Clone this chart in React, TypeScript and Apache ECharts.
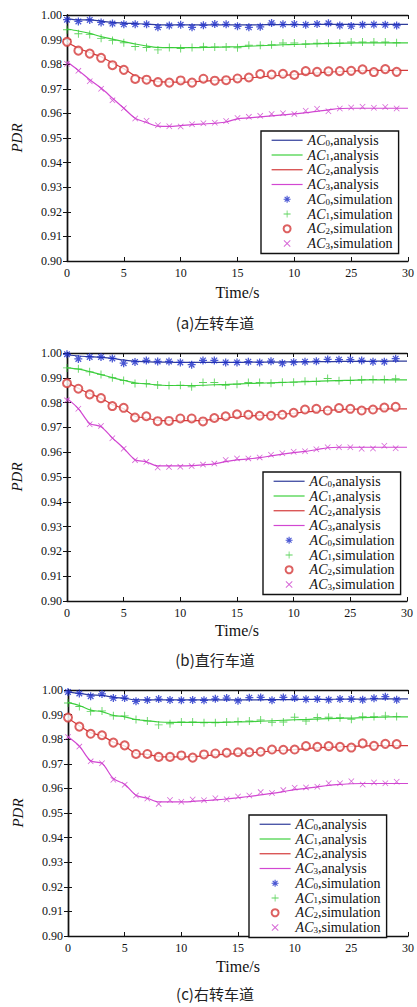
import React, { useEffect, useRef } from "react";
import * as echarts from "echarts";

// ---------- data ----------
const X_TICK_LABELS = ["0", "5", "10", "15", "10", "25", "30"];
const SIM_T = [0, 1, 2, 3, 4, 5, 6, 7, 8, 9, 10, 11, 12, 13, 14, 15, 16, 17, 18, 19, 20, 21, 22, 23, 24, 25, 26, 27, 28, 29];
const ANA_T = [0, 1, 2, 3, 4, 5, 6, 7, 8, 9, 10, 11, 12, 13, 14, 15, 16, 17, 18, 19, 20, 21, 22, 23, 24, 25, 26, 27, 28, 29, 30];
const CAPTIONS = ["(a)左转车道", "(b)直行车道", "(c)右转车道"];

// panel (a) analysis
const anaA0 = [0.9985, 0.998, 0.998, 0.9975, 0.997, 0.9967, 0.9965, 0.9963, 0.996, 0.996, 0.996, 0.996, 0.996, 0.996, 0.996, 0.996, 0.996, 0.996, 0.9961, 0.9961, 0.9961, 0.9961, 0.9962, 0.9962, 0.9962, 0.9962, 0.9962, 0.9962, 0.9962, 0.9962, 0.9962];
const anaA1 = [0.9943, 0.9935, 0.9925, 0.9912, 0.9902, 0.9892, 0.9882, 0.9874, 0.9868, 0.9867, 0.9867, 0.9867, 0.9868, 0.9869, 0.987, 0.9871, 0.9873, 0.9875, 0.9877, 0.9879, 0.988, 0.9882, 0.9883, 0.9884, 0.9885, 0.9886, 0.9887, 0.9887, 0.9887, 0.9887, 0.9887];
const anaA2 = [0.9889, 0.9865, 0.9847, 0.983, 0.9805, 0.9782, 0.9752, 0.9738, 0.9729, 0.9727, 0.9727, 0.9728, 0.9731, 0.9734, 0.9737, 0.974, 0.9744, 0.9748, 0.9752, 0.9755, 0.9758, 0.9762, 0.9765, 0.9768, 0.977, 0.9772, 0.9774, 0.9775, 0.9775, 0.9775, 0.9775];
const anaA3 = [0.981, 0.9775, 0.9737, 0.9703, 0.9662, 0.9621, 0.958, 0.9563, 0.9548, 0.9547, 0.955, 0.9554, 0.9557, 0.956, 0.9565, 0.9578, 0.9582, 0.9586, 0.959, 0.9594, 0.9598, 0.9603, 0.9608, 0.9614, 0.962, 0.9621, 0.9621, 0.9621, 0.9621, 0.9621, 0.9621];
// panel (a) simulation
const simA0 = [0.9981, 0.9974, 0.998, 0.997, 0.9965, 0.9962, 0.9962, 0.9962, 0.995, 0.9957, 0.996, 0.995, 0.9958, 0.9963, 0.9962, 0.9954, 0.995, 0.9952, 0.9967, 0.9962, 0.9963, 0.996, 0.9963, 0.9966, 0.9957, 0.9955, 0.996, 0.9961, 0.996, 0.9957];
const simA1 = [0.994, 0.9924, 0.9921, 0.9905, 0.9896, 0.9887, 0.9872, 0.9868, 0.9858, 0.9868, 0.9864, 0.9868, 0.9871, 0.987, 0.987, 0.9867, 0.9877, 0.9877, 0.9879, 0.9886, 0.9886, 0.9882, 0.9885, 0.9886, 0.9886, 0.989, 0.989, 0.989, 0.989, 0.9887];
const simA2 = [0.9891, 0.9855, 0.9843, 0.9826, 0.9796, 0.9777, 0.974, 0.9737, 0.9727, 0.9725, 0.9734, 0.9725, 0.9741, 0.9733, 0.9735, 0.9742, 0.9746, 0.976, 0.9758, 0.9761, 0.9756, 0.9772, 0.9769, 0.9771, 0.9772, 0.9773, 0.9779, 0.9768, 0.978, 0.9769];
const simA3 = [0.9802, 0.9773, 0.9731, 0.97, 0.9653, 0.9621, 0.9579, 0.957, 0.9552, 0.9548, 0.9547, 0.9556, 0.956, 0.9562, 0.9569, 0.9581, 0.9586, 0.959, 0.9598, 0.9601, 0.9598, 0.9611, 0.9619, 0.9609, 0.962, 0.9624, 0.9627, 0.9623, 0.9626, 0.962];

// panel (b) analysis
const anaB0 = [0.9993, 0.9988, 0.9985, 0.9982, 0.9978, 0.9972, 0.9967, 0.9965, 0.9963, 0.9963, 0.9962, 0.9962, 0.9962, 0.9962, 0.9962, 0.9962, 0.9963, 0.9963, 0.9963, 0.9964, 0.9964, 0.9964, 0.9965, 0.9965, 0.9966, 0.9966, 0.9966, 0.9967, 0.9967, 0.9967, 0.9967];
const anaB1 = [0.994, 0.9935, 0.9925, 0.9913, 0.9901, 0.989, 0.988, 0.9875, 0.9871, 0.9869, 0.9869, 0.9869, 0.987, 0.9872, 0.9873, 0.9875, 0.9877, 0.9878, 0.988, 0.9881, 0.9883, 0.9884, 0.9886, 0.9888, 0.9889, 0.989, 0.9891, 0.9892, 0.9892, 0.9892, 0.9892];
const anaB2 = [0.988, 0.9858, 0.9836, 0.9818, 0.9792, 0.9775, 0.9745, 0.9738, 0.9728, 0.9727, 0.9727, 0.9727, 0.9728, 0.9733, 0.9738, 0.9743, 0.9746, 0.9748, 0.975, 0.9753, 0.9757, 0.9762, 0.9766, 0.9769, 0.9772, 0.9773, 0.9774, 0.9775, 0.9775, 0.9775, 0.9775];
const anaB3 = [0.9817, 0.9776, 0.9716, 0.9703, 0.9658, 0.9616, 0.957, 0.9561, 0.9545, 0.9545, 0.9545, 0.9546, 0.9549, 0.9553, 0.9562, 0.9569, 0.9573, 0.9578, 0.9585, 0.9592, 0.9598, 0.9603, 0.961, 0.9618, 0.962, 0.962, 0.962, 0.962, 0.962, 0.962, 0.962];
// panel (b) simulation
const simB0 = [0.9995, 0.9976, 0.9984, 0.9984, 0.9978, 0.9959, 0.9964, 0.997, 0.9966, 0.9966, 0.9962, 0.9953, 0.997, 0.997, 0.9962, 0.9962, 0.9965, 0.9962, 0.9967, 0.9959, 0.9963, 0.9965, 0.9967, 0.9974, 0.9973, 0.9973, 0.997, 0.9965, 0.9965, 0.9977];
const simB1 = [0.994, 0.9936, 0.9924, 0.9913, 0.99, 0.9889, 0.9877, 0.9877, 0.9871, 0.9869, 0.987, 0.9864, 0.9881, 0.9881, 0.987, 0.9874, 0.9881, 0.9881, 0.9878, 0.9882, 0.9882, 0.9886, 0.9885, 0.9897, 0.9888, 0.9889, 0.9892, 0.9893, 0.9893, 0.9896];
const simB2 = [0.9878, 0.9856, 0.9833, 0.9818, 0.9786, 0.9779, 0.974, 0.9745, 0.9725, 0.9726, 0.9736, 0.9736, 0.9724, 0.9738, 0.9745, 0.9753, 0.9751, 0.9747, 0.9747, 0.9751, 0.9759, 0.9772, 0.9775, 0.9768, 0.9778, 0.9775, 0.9768, 0.9772, 0.978, 0.9783];
const simB3 = [0.9809, 0.9775, 0.9713, 0.9706, 0.9656, 0.9614, 0.9568, 0.9561, 0.9538, 0.954, 0.9541, 0.9544, 0.955, 0.9554, 0.9569, 0.9575, 0.9575, 0.9579, 0.959, 0.9596, 0.9602, 0.9604, 0.9612, 0.962, 0.962, 0.962, 0.9614, 0.9615, 0.9626, 0.9616];

// panel (c) analysis
const anaC0 = [0.9992, 0.9986, 0.998, 0.9978, 0.997, 0.9966, 0.996, 0.996, 0.996, 0.996, 0.996, 0.996, 0.996, 0.996, 0.996, 0.996, 0.996, 0.996, 0.9961, 0.9961, 0.9961, 0.9962, 0.9962, 0.9962, 0.9963, 0.9963, 0.9963, 0.9964, 0.9964, 0.9964, 0.9964];
const anaC1 = [0.995, 0.9937, 0.9918, 0.9912, 0.9897, 0.9891, 0.988, 0.9875, 0.987, 0.9868, 0.9868, 0.9868, 0.9868, 0.9868, 0.9869, 0.987, 0.9871, 0.9873, 0.9875, 0.9877, 0.9879, 0.988, 0.9882, 0.9884, 0.9885, 0.9886, 0.9888, 0.9889, 0.989, 0.9891, 0.9891];
const anaC2 = [0.9885, 0.9855, 0.9826, 0.9814, 0.9788, 0.9772, 0.9742, 0.9738, 0.9729, 0.9728, 0.9728, 0.9729, 0.9732, 0.9736, 0.9739, 0.9742, 0.9745, 0.9748, 0.9752, 0.9755, 0.9758, 0.9762, 0.9765, 0.9767, 0.9769, 0.9771, 0.9772, 0.9773, 0.9774, 0.9774, 0.9774];
const anaC3 = [0.981, 0.9772, 0.9712, 0.9702, 0.964, 0.9617, 0.9572, 0.956, 0.9545, 0.9545, 0.9545, 0.9547, 0.955, 0.9553, 0.9557, 0.9562, 0.9567, 0.9574, 0.958, 0.9587, 0.9595, 0.96, 0.9606, 0.9612, 0.9616, 0.9619, 0.962, 0.962, 0.962, 0.962, 0.962];
// panel (c) simulation
const simC0 = [0.9992, 0.9986, 0.9975, 0.9984, 0.9967, 0.9967, 0.9954, 0.9959, 0.9963, 0.9959, 0.9958, 0.9959, 0.9958, 0.9964, 0.9967, 0.9956, 0.9969, 0.997, 0.9958, 0.997, 0.9967, 0.9962, 0.9963, 0.996, 0.9963, 0.9963, 0.996, 0.9966, 0.9973, 0.996];
const simC1 = [0.9947, 0.9933, 0.9913, 0.9915, 0.9895, 0.9895, 0.988, 0.9874, 0.9858, 0.9863, 0.987, 0.987, 0.9867, 0.9867, 0.987, 0.9872, 0.9874, 0.9878, 0.9869, 0.987, 0.9889, 0.9874, 0.9888, 0.9889, 0.9887, 0.9881, 0.9892, 0.9892, 0.9895, 0.9892];
const simC2 = [0.9888, 0.9851, 0.9822, 0.9816, 0.9786, 0.9775, 0.974, 0.974, 0.9728, 0.9728, 0.9734, 0.9725, 0.9738, 0.9742, 0.9745, 0.9747, 0.9747, 0.9749, 0.9758, 0.9757, 0.9758, 0.9772, 0.9769, 0.9772, 0.9769, 0.9766, 0.9783, 0.9773, 0.9781, 0.978];
const simC3 = [0.9809, 0.977, 0.971, 0.9702, 0.9635, 0.9615, 0.9571, 0.9559, 0.9537, 0.9553, 0.9546, 0.9555, 0.9552, 0.956, 0.9556, 0.9567, 0.9571, 0.9585, 0.9581, 0.9593, 0.9603, 0.9604, 0.9607, 0.9621, 0.9621, 0.9629, 0.9616, 0.9624, 0.9621, 0.9627];

const PANELS = [
  { ana: [anaA0, anaA1, anaA2, anaA3], sim: [simA0, simA1, simA2, simA3] },
  { ana: [anaB0, anaB1, anaB2, anaB3], sim: [simB0, simB1, simB2, simB3] },
  { ana: [anaC0, anaC1, anaC2, anaC3], sim: [simC0, simC1, simC2, simC3] },
];

// ---------- styles / layout ----------
const LINE_COLORS = ["#2f3c9a", "#3fd03f", "#d43a3a", "#d247d2"];
const MARK_COLORS = ["#1b2cc8", "#35c835", "#d43a3a", "#cc3fcc"];

const STAR =
  "path://M-5,-0.8L5,-0.8L5,0.8L-5,0.8Z M-0.8,-5L0.8,-5L0.8,5L-0.8,5Z M-2.94,-4.06L4.06,2.94L2.94,4.06L-4.06,-2.94Z M-4.06,2.94L2.94,-4.06L4.06,-2.94L-2.94,4.06Z";
const PLUS = "path://M-5,-0.55L5,-0.55L5,0.55L-5,0.55Z M-0.55,-5L0.55,-5L0.55,5L-0.55,5Z";
const CROSS =
  "path://M-3.15,-3.85L3.85,3.15L3.15,3.85L-3.85,-3.15Z M-3.85,3.15L3.15,-3.85L3.85,-3.15L-3.15,3.85Z";
const SYMBOLS = [STAR, PLUS, "emptyCircle", CROSS];
const SYMBOL_SIZES = [8, 8, 8, 6];

const GRIDS = [
  { left: 67, top: 15, width: 343, height: 246 },
  { left: 67, top: 353, width: 340, height: 248 },
  { left: 68, top: 690, width: 341, height: 246 },
];
const LEGEND_POS = [
  { left: 261, top: 131 },
  { left: 263, top: 472 },
  { left: 249, top: 815 },
];
const NAME_GAPS = [23, 21, 22];
const CAPTION_Y = [322, 659, 993];

const SERIF = "Liberation Serif";

export default function App() {
  const ref = useRef<HTMLDivElement>(null);

  useEffect(() => {
    if (!ref.current) return;
    const chart = echarts.init(ref.current, undefined, { renderer: "svg" });

    const xAxes: any[] = [];
    const yAxes: any[] = [];
    const series: any[] = [];
    const legends: any[] = [];
    const graphics: any[] = [];

    const axisLine = { show: true, lineStyle: { color: "#111", width: 1.4 } };
    const tick = { show: true, inside: true, length: 4, lineStyle: { color: "#111", width: 1 } };

    const legendData: any[] = [];
    for (let k = 0; k < 4; k++) legendData.push({ name: `AC${k},analysis`, itemStyle: { opacity: 0 } });
    for (let k = 0; k < 4; k++) legendData.push({ name: `AC${k},simulation` });

    PANELS.forEach((p, g) => {
      xAxes.push({
        type: "value",
        gridIndex: g,
        min: 0,
        max: 30,
        interval: 5,
        position: "bottom",
        axisLine,
        axisTick: tick,
        splitLine: { show: false },
        axisLabel: {
          margin: 6,
          color: "#111",
          fontSize: 12,
          fontFamily: SERIF,
          formatter: (v: number) => X_TICK_LABELS[Math.round(v / 5)],
        },
        name: "Time/s",
        nameLocation: "middle",
        nameGap: NAME_GAPS[g],
        nameTextStyle: { color: "#111", fontSize: 16, fontFamily: SERIF },
      });
      xAxes.push({
        type: "value",
        gridIndex: g,
        min: 0,
        max: 30,
        interval: 5,
        position: "top",
        axisLine,
        axisTick: tick,
        axisLabel: { show: false },
        splitLine: { show: false },
      });
      yAxes.push({
        type: "value",
        gridIndex: g,
        min: 0.9,
        max: 1.0,
        interval: 0.01,
        position: "left",
        axisLine,
        axisTick: tick,
        splitLine: { show: false },
        axisLabel: {
          margin: 5,
          color: "#111",
          fontSize: 12,
          fontFamily: SERIF,
          formatter: (v: number) => v.toFixed(2),
        },
        name: "PDR",
        nameLocation: "middle",
        nameGap: 43,
        nameTextStyle: { color: "#111", fontSize: 15, fontStyle: "italic", fontFamily: SERIF },
      });
      yAxes.push({
        type: "value",
        gridIndex: g,
        min: 0.9,
        max: 1.0,
        interval: 0.01,
        position: "right",
        axisLine,
        axisTick: tick,
        axisLabel: { show: false },
        splitLine: { show: false },
      });

      for (let k = 0; k < 4; k++) {
        series.push({
          type: "line",
          name: `AC${k},analysis`,
          xAxisIndex: g * 2,
          yAxisIndex: g * 2,
          data: ANA_T.map((t, i) => [t, p.ana[k][i]]),
          symbol: "none",
          smooth: 0.3,
          lineStyle: { color: LINE_COLORS[k], width: 1.2 },
          itemStyle: { color: LINE_COLORS[k] },
          z: 2,
        });
      }
      for (let k = 0; k < 4; k++) {
        series.push({
          type: "scatter",
          name: `AC${k},simulation`,
          xAxisIndex: g * 2,
          yAxisIndex: g * 2,
          data: SIM_T.map((t, i) => [t, p.sim[k][i]]),
          symbol: SYMBOLS[k],
          symbolSize: SYMBOL_SIZES[k],
          itemStyle:
            k === 2
              ? { color: MARK_COLORS[k], borderColor: MARK_COLORS[k], borderWidth: 1.1 }
              : { color: MARK_COLORS[k] },
          z: 3,
        });
      }

      legends.push({
        orient: "vertical",
        left: LEGEND_POS[g].left,
        top: LEGEND_POS[g].top,
        data: legendData,
        backgroundColor: "#fff",
        borderColor: "#111",
        borderWidth: 1.4,
        borderRadius: 0,
        padding: [2, 6, 3, 10],
        itemGap: 0.5,
        itemWidth: 31,
        itemHeight: 7,
        selectedMode: false,
        lineStyle: { width: 1.2 },
        formatter: (name: string) => {
          const m = name.match(/^AC(\d),(.*)$/);
          if (!m) return name;
          return `{i|AC}{s|${m[1]}}{t|,${m[2]}}`;
        },
        textStyle: {
          color: "#111",
          fontFamily: SERIF,
          fontSize: 14,
          rich: {
            i: { fontStyle: "italic", fontFamily: SERIF, fontSize: 14, color: "#111", lineHeight: 13.5 },
            s: { fontFamily: SERIF, fontSize: 9, color: "#111", lineHeight: 13.5, verticalAlign: "bottom", padding: [5, 0, 0, 0] },
            t: { fontFamily: SERIF, fontSize: 14, color: "#111", lineHeight: 13.5 },
          },
        },
      });

      graphics.push({
        type: "text",
        x: 215,
        y: CAPTION_Y[g],
        style: {
          text: CAPTIONS[g],
          fontSize: 15,
          fontFamily: "Noto Sans CJK SC",
          fill: "#222",
          align: "center",
          verticalAlign: "middle",
        },
      });
    });

    chart.setOption({
      animation: false,
      backgroundColor: "#fff",
      grid: GRIDS.map((gr) => ({ ...gr, containLabel: false, show: false })),
      xAxis: xAxes,
      yAxis: yAxes,
      legend: legends,
      series,
      graphic: graphics,
    });

    return () => chart.dispose();
  }, []);

  return (
    <div
      ref={ref}
      style={{ position: "absolute", left: 0, top: 0, width: 417, height: 1007 }}
    />
  );
}
